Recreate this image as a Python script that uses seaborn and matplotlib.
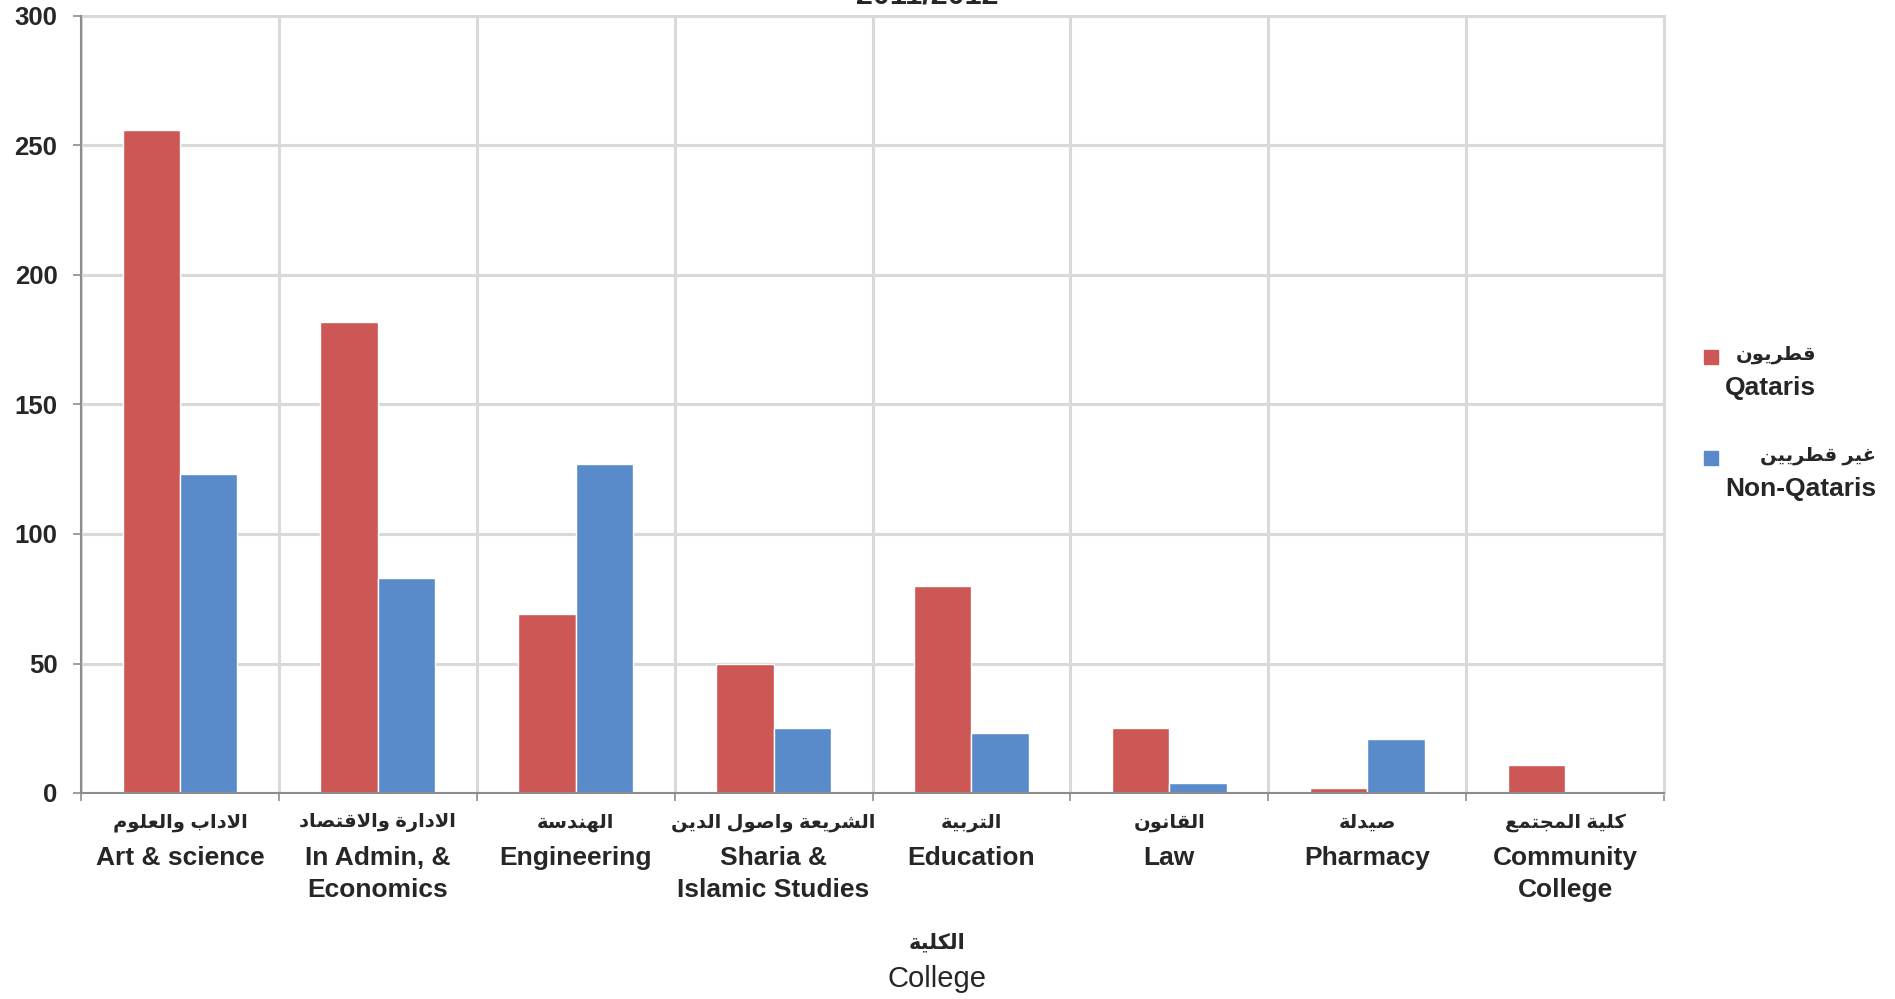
import matplotlib
matplotlib.use("Agg")
import matplotlib.pyplot as plt
import matplotlib.patches as mpatches
import seaborn as sbn
import pandas as pd
import numpy as np


# -------------------------------------------------------------------------------------------------------
# data
# -------------------------------------------------------------------------------------------------------

colleges_ar = ["الاداب والعلوم", "الادارة والاقتصاد", "الهندسة", "الشريعة واصول الدين",
               "التربية", "القانون", "صيدلة", "كلية المجتمع"]
colleges_en = ["Art & science", "In Admin, &\nEconomics", "Engineering", "Sharia &\nIslamic Studies",
               "Education", "Law", "Pharmacy", "Community\nCollege"]
qataris = [256, 182, 69, 50, 80, 25, 2, 11]
non_qataris = [123, 83, 127, 25, 23, 4, 21, 0]
series_ar = ["قطريون", "غير قطريين"]
series_en = ["Qataris", "Non-Qataris"]
axis_ar = "الكلية"
axis_en = "College"
title = "2011/2012"
yticks = [0, 50, 100, 150, 200, 250, 300]

colours = ["#CD5754", "#598BCB"]


# -------------------------------------------------------------------------------------------------------
# small arabic shaper (matplotlib does no joining / rtl)
# -------------------------------------------------------------------------------------------------------

FORMS = {'ا': 0xFE8D, 'ب': 0xFE8F, 'ة': 0xFE93, 'ت': 0xFE95, 'ج': 0xFE9D, 'د': 0xFEA9,
         'ر': 0xFEAD, 'س': 0xFEB1, 'ش': 0xFEB5, 'ص': 0xFEB9, 'ط': 0xFEC1, 'ع': 0xFEC9,
         'غ': 0xFECD, 'ق': 0xFED5, 'ك': 0xFED9, 'ل': 0xFEDD, 'م': 0xFEE1, 'ن': 0xFEE5,
         'ه': 0xFEE9, 'و': 0xFEED, 'ي': 0xFEF1, 'LA': 0xFEFB}
RIGHT_ONLY = set(['ا', 'ة', 'د', 'ر', 'و', 'LA'])


def shape(text):
    chars = []
    i = 0
    while i < len(text):
        if text[i] == 'ل' and i + 1 < len(text) and text[i + 1] == 'ا':
            chars.append('LA')
            i += 2
        else:
            chars.append(text[i])
            i += 1
    out = []
    for i, c in enumerate(chars):
        if c not in FORMS:
            out.append(c)
            continue
        prev = chars[i - 1] if i > 0 else None
        nxt = chars[i + 1] if i + 1 < len(chars) else None
        j_prev = prev in FORMS and prev not in RIGHT_ONLY
        j_next = c not in RIGHT_ONLY and nxt in FORMS
        if j_prev and j_next:
            off = 3
        elif j_prev:
            off = 1
        elif j_next:
            off = 2
        else:
            off = 0
        out.append(chr(FORMS[c] + off))
    return "".join(out[::-1])


# -------------------------------------------------------------------------------------------------------
# plot
# -------------------------------------------------------------------------------------------------------

sbn.set_style("white")
plt.rcParams['font.family'] = ['Liberation Sans', 'DejaVu Sans']

df = pd.DataFrame({"college": colleges_en * 2,
                   "source": [series_en[0]] * len(colleges_en) + [series_en[1]] * len(colleges_en),
                   "value": qataris + non_qataris})

fig = plt.figure(figsize=(18.95, 9.99), dpi=100)
ax = fig.add_axes([81 / 1895, 1 - 793 / 999, (1664 - 81) / 1895, (793 - 16) / 999])

sbn.barplot(data=df, x="college", y="value", hue="source", order=colleges_en, hue_order=series_en,
            palette=colours, width=0.58, gap=0, saturation=1, legend=False, ax=ax)

ax.set_xlim(-0.5, len(colleges_en) - 0.5)
ax.set_ylim(0, 300)
ax.set_yticks(yticks)
ax.set_xticks(np.arange(-0.5, len(colleges_en), 1), minor=True)
ax.set_xlabel("")
ax.set_ylabel("")

ax.set_axisbelow(True)
ax.grid(False)
ax.grid(axis="y", which="major", color="#d9d9d9", linewidth=2.2)
ax.grid(axis="x", which="minor", color="#d9d9d9", linewidth=2.2)

for s in ["left", "bottom"]:
    ax.spines[s].set_color("#8c8c8c")
    ax.spines[s].set_linewidth(1.5)
    ax.spines[s].set_zorder(5)
for s in ["top", "right"]:
    ax.spines[s].set_color("#d9d9d9")
    ax.spines[s].set_linewidth(2.2)

ax.tick_params(axis="x", which="major", length=0, pad=38, labelsize=19)
ax.tick_params(axis="x", which="minor", length=6, width=1.2, color="#8c8c8c", bottom=True)
ax.tick_params(axis="y", which="major", length=6, width=1.2, color="#8c8c8c", left=True,
               pad=11, labelsize=18.5)
for t in ax.get_xticklabels():
    t.set_fontweight("bold")
    t.set_linespacing(1.43)
for t in ax.get_yticklabels():
    t.set_fontweight("bold")

# arabic line above each english college name
for i, name in enumerate(colleges_ar):
    ax.text(i, -(823 - 793) / 777, shape(name), transform=ax.get_xaxis_transform(),
            ha="center", va="center", fontsize=14, fontweight="bold")

# cut off title at top
fig.text(927 / 1895, 1 - 3 / 999, title, ha="center", va="baseline", fontsize=22, fontweight="bold")

# axis title
fig.text(937 / 1895, 1 - 943 / 999, shape(axis_ar), ha="center", va="center", fontsize=15, fontweight="bold")
fig.text(937 / 1895, 1 - 979 / 999, axis_en, ha="center", va="center", fontsize=21)

# legend
fig.canvas.draw()
renderer = fig.canvas.get_renderer()
for i, yc in enumerate([357, 458]):
    fig.patches.append(mpatches.Rectangle((1704 / 1895, 1 - (yc + 7) / 999), 14 / 1895, 14 / 999,
                                          transform=fig.transFigure, color=colours[i]))
    t_en = fig.text(1725 / 1895, 1 - (yc + 31) / 999, series_en[i], ha="left", va="center",
                    fontsize=19, fontweight="bold")
    x_right = t_en.get_window_extent(renderer).x1 / fig.bbox.width
    fig.text(x_right, 1 - (yc - 2) / 999, shape(series_ar[i]), ha="right", va="center",
             fontsize=14, fontweight="bold")

fig.savefig("out.png", dpi=100)
